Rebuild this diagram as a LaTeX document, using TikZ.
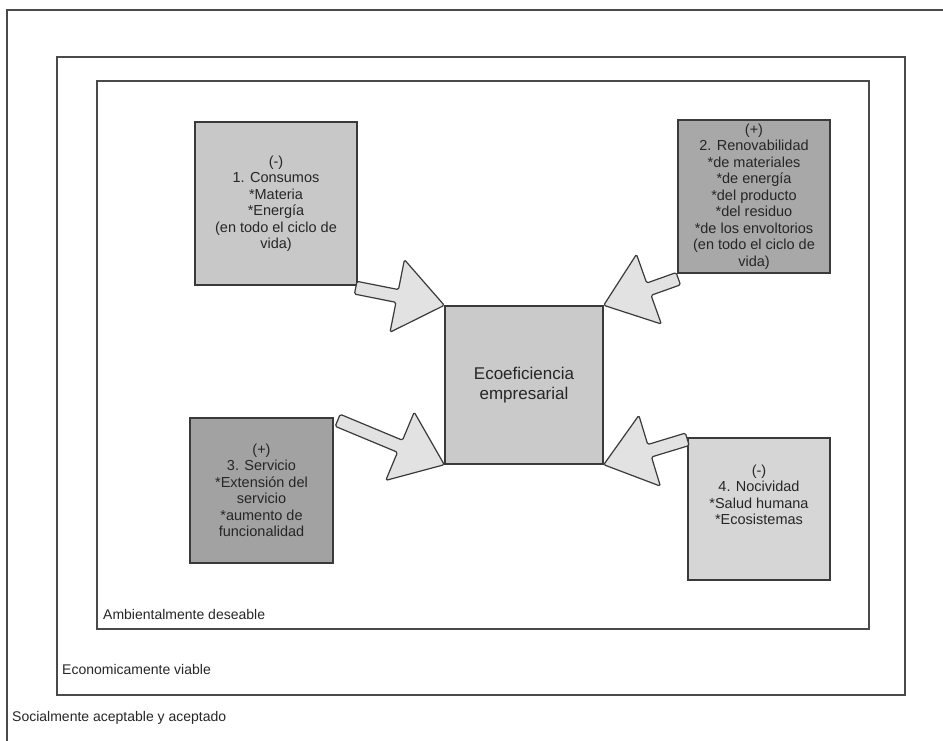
\documentclass[tikz,border=0pt]{standalone}
\usepackage{fontspec}
\setmainfont{Liberation Sans}
\usetikzlibrary{calc}

\definecolor{framegray}{HTML}{4A4A4A}
\definecolor{boxedge}{HTML}{3A3A3A}
\definecolor{inkgray}{HTML}{262626}
\definecolor{fillA}{HTML}{C8C8C8}
\definecolor{fillB}{HTML}{A8A8A8}
\definecolor{fillC}{HTML}{A2A2A2}
\definecolor{fillD}{HTML}{D6D6D6}
\definecolor{fillE}{HTML}{CACACA}
\definecolor{arrowfill}{HTML}{E2E2E2}

\tikzset{
  frameline/.style={draw=framegray, line width=1.4pt},
  framelabel/.style={anchor=base west, inner sep=0pt, text=inkgray,
    font=\fontsize{14}{16}\selectfont},
  factorbox/.style={draw=boxedge, line width=1.4pt, align=center, inner sep=0pt,
    text=inkgray, font=\fontsize{14.5}{16.5}\selectfont},
  corebox/.style={draw=boxedge, line width=1.4pt, align=center, inner sep=0pt,
    fill=fillE, text=inkgray, font=\fontsize{17}{20}\selectfont,
    minimum width=158pt, minimum height=158pt},
  blockarrow/.style={draw=boxedge, fill=arrowfill, line width=1.2pt,
    rounded corners=1.5pt, line join=round},
}

% block arrow from tail #1 to tip #2: shaft half width 6.5, head 48 long, 74 wide
\newcommand{\fatarrow}[2]{%
  \begin{scope}
    \coordinate (hb) at ($(#2)!48pt!(#1)$);
    \draw[blockarrow]
      ($(#1)!6.5pt!90:(#2)$) --
      ($(hb)!6.5pt!-90:(#1)$) --
      ($(hb)!37pt!-90:(#1)$) --
      (#2) --
      ($(hb)!37pt!90:(#1)$) --
      ($(hb)!6.5pt!90:(#1)$) --
      ($(#1)!6.5pt!-90:(#2)$) -- cycle;
  \end{scope}}

\begin{document}
\begin{tikzpicture}[x=1pt, y=-1pt]
  \useasboundingbox (0,0) rectangle (943,741);

  % nested frames
  \draw[frameline] (943,10) -- (7,10) -- (7,741);
  \draw[frameline] (57,57) rectangle (905,695);
  \draw[frameline] (97,81) rectangle (869,629);

  \node[framelabel] (lamb) at (103,619) {Ambientalmente deseable};
  \node[framelabel] (leco) at (62,674) {Economicamente viable};
  \node[framelabel] (lsoc) at (12,721) {Socialmente aceptable y aceptado};

  % factor boxes
  \node[factorbox, fill=fillA, minimum width=162pt, minimum height=163pt] (b1)
    at (276,203.5) {(-)\\1. Consumos\\*Materia\\*Energía\\(en todo el ciclo de\\vida)};
  \node[factorbox, fill=fillB, minimum width=152pt, minimum height=153pt] (b2)
    at (754,196.5) {(+)\\2. Renovabilidad\\*de materiales\\*de energía\\*del producto\\*del residuo\\*de los envoltorios\\(en todo el ciclo de\\vida)};
  \node[factorbox, fill=fillC, minimum width=143pt, minimum height=145pt] (b3)
    at (261.5,490.5) {(+)\\3. Servicio\\*Extensión del\\servicio\\*aumento de\\funcionalidad};
  \node[factorbox, fill=fillD, minimum width=142pt, minimum height=142pt] (b4)
    at (759,509) {(-)\\4. Nocividad\\*Salud humana\\*Ecosistemas\\[12pt]};

  % central box
  \node[corebox] (c) at (524,385) {Ecoeficiencia\\empresarial};

  % arrows from each factor to the centre
  \coordinate (t1) at ($(b1.south east)+(-2,2)$);
  \coordinate (t2) at ($(b2.south west)+(1,5)$);
  \coordinate (t3) at ($(b3.north east)+(4,3)$);
  \coordinate (t4) at ($(b4.north west)+(0,2)$);
  \fatarrow{t1}{c.north west}
  \fatarrow{t2}{c.north east}
  \fatarrow{t3}{c.south west}
  \fatarrow{t4}{c.south east}
\end{tikzpicture}
\end{document}
